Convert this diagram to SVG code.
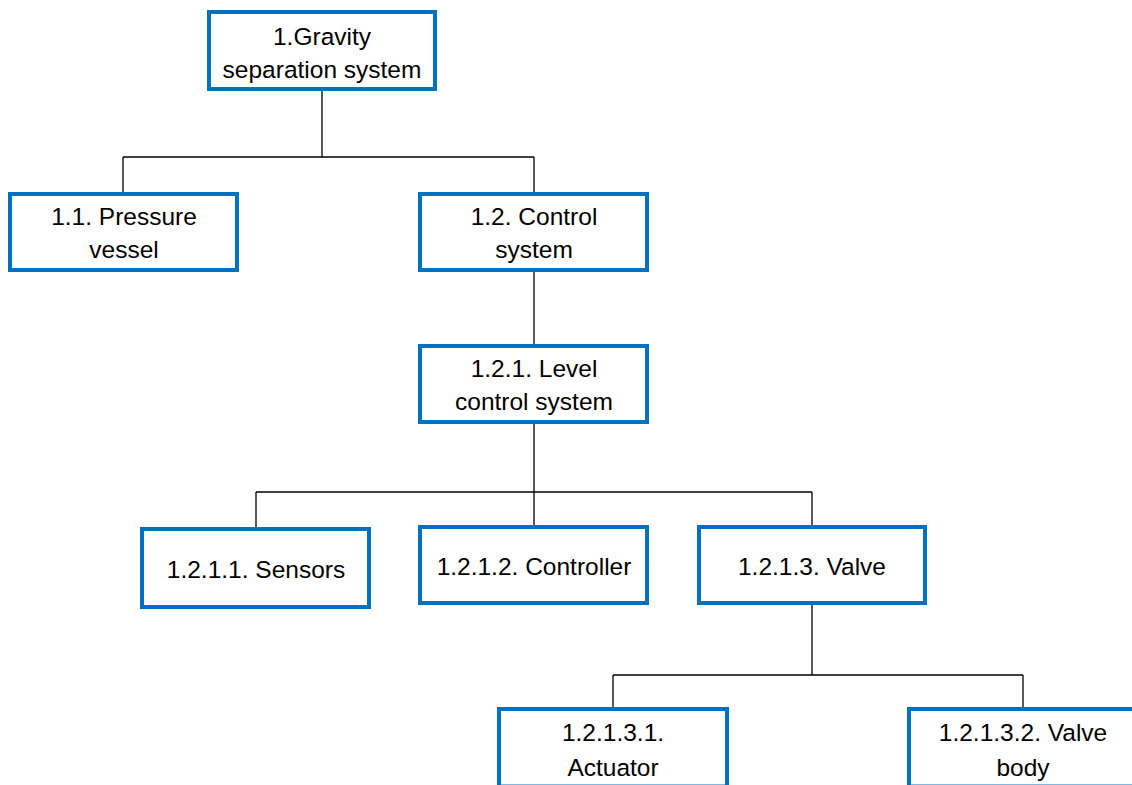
<svg xmlns="http://www.w3.org/2000/svg" width="1132" height="785" viewBox="0 0 1132 785">
  <style>
    .box { fill: #ffffff; stroke: #0070C0; stroke-width: 4; }
    .lbl { font-family: "Liberation Sans", Arial, sans-serif; font-size: 24.5px; fill: #000000; text-anchor: middle; }
    .wire { fill: none; stroke: #000000; stroke-width: 1.3; }
  </style>
  <rect width="1132" height="785" fill="#ffffff"/>

  <!-- tree connectors -->
  <g id="connectors">
    <path class="wire" d="M322,89 V157 M123,157 H534 M123,157 V194 M534,157 V194"/>
    <path class="wire" d="M534,270 V346"/>
    <path class="wire" d="M534,422 V492 M256,492 H812 M256,492 V529 M534,492 V527 M812,492 V527"/>
    <path class="wire" d="M812,603 V675 M613,675 H1023 M613,675 V709"/>
    <path class="wire" d="M1023,675 V709"/>
  </g>

  <g id="n1">
    <rect class="box" x="209" y="12" width="226" height="77"/>
    <text class="lbl" x="322" y="45">1.Gravity</text>
    <text class="lbl" x="322" y="78">separation system</text>
  </g>

  <g id="n1_1">
    <rect class="box" x="10" y="194" width="227" height="76"/>
    <text class="lbl" x="124" y="225">1.1. Pressure</text>
    <text class="lbl" x="124" y="258">vessel</text>
  </g>

  <g id="n1_2">
    <rect class="box" x="420" y="194" width="227" height="76"/>
    <text class="lbl" x="534" y="225">1.2. Control</text>
    <text class="lbl" x="534" y="258">system</text>
  </g>

  <g id="n1_2_1">
    <rect class="box" x="420" y="346" width="227" height="76"/>
    <text class="lbl" x="534" y="377">1.2.1. Level</text>
    <text class="lbl" x="534" y="410">control system</text>
  </g>

  <g id="n1_2_1_1">
    <rect class="box" x="142" y="529" width="227" height="78"/>
    <text class="lbl" x="256" y="578">1.2.1.1. Sensors</text>
  </g>

  <g id="n1_2_1_2">
    <rect class="box" x="420" y="527" width="227" height="76"/>
    <text class="lbl" x="534" y="575">1.2.1.2. Controller</text>
  </g>

  <g id="n1_2_1_3">
    <rect class="box" x="699" y="527" width="226" height="76"/>
    <text class="lbl" x="812" y="575">1.2.1.3. Valve</text>
  </g>

  <g id="n1_2_1_3_1">
    <rect class="box" x="499" y="709" width="228" height="77.5"/>
    <text class="lbl" x="613" y="741">1.2.1.3.1.</text>
    <text class="lbl" x="613" y="776">Actuator</text>
  </g>

  <g id="n1_2_1_3_2">
    <rect class="box" x="909" y="709" width="228" height="77.5"/>
    <text class="lbl" x="1023" y="741">1.2.1.3.2. Valve</text>
    <text class="lbl" x="1023" y="776">body</text>
  </g>
</svg>
